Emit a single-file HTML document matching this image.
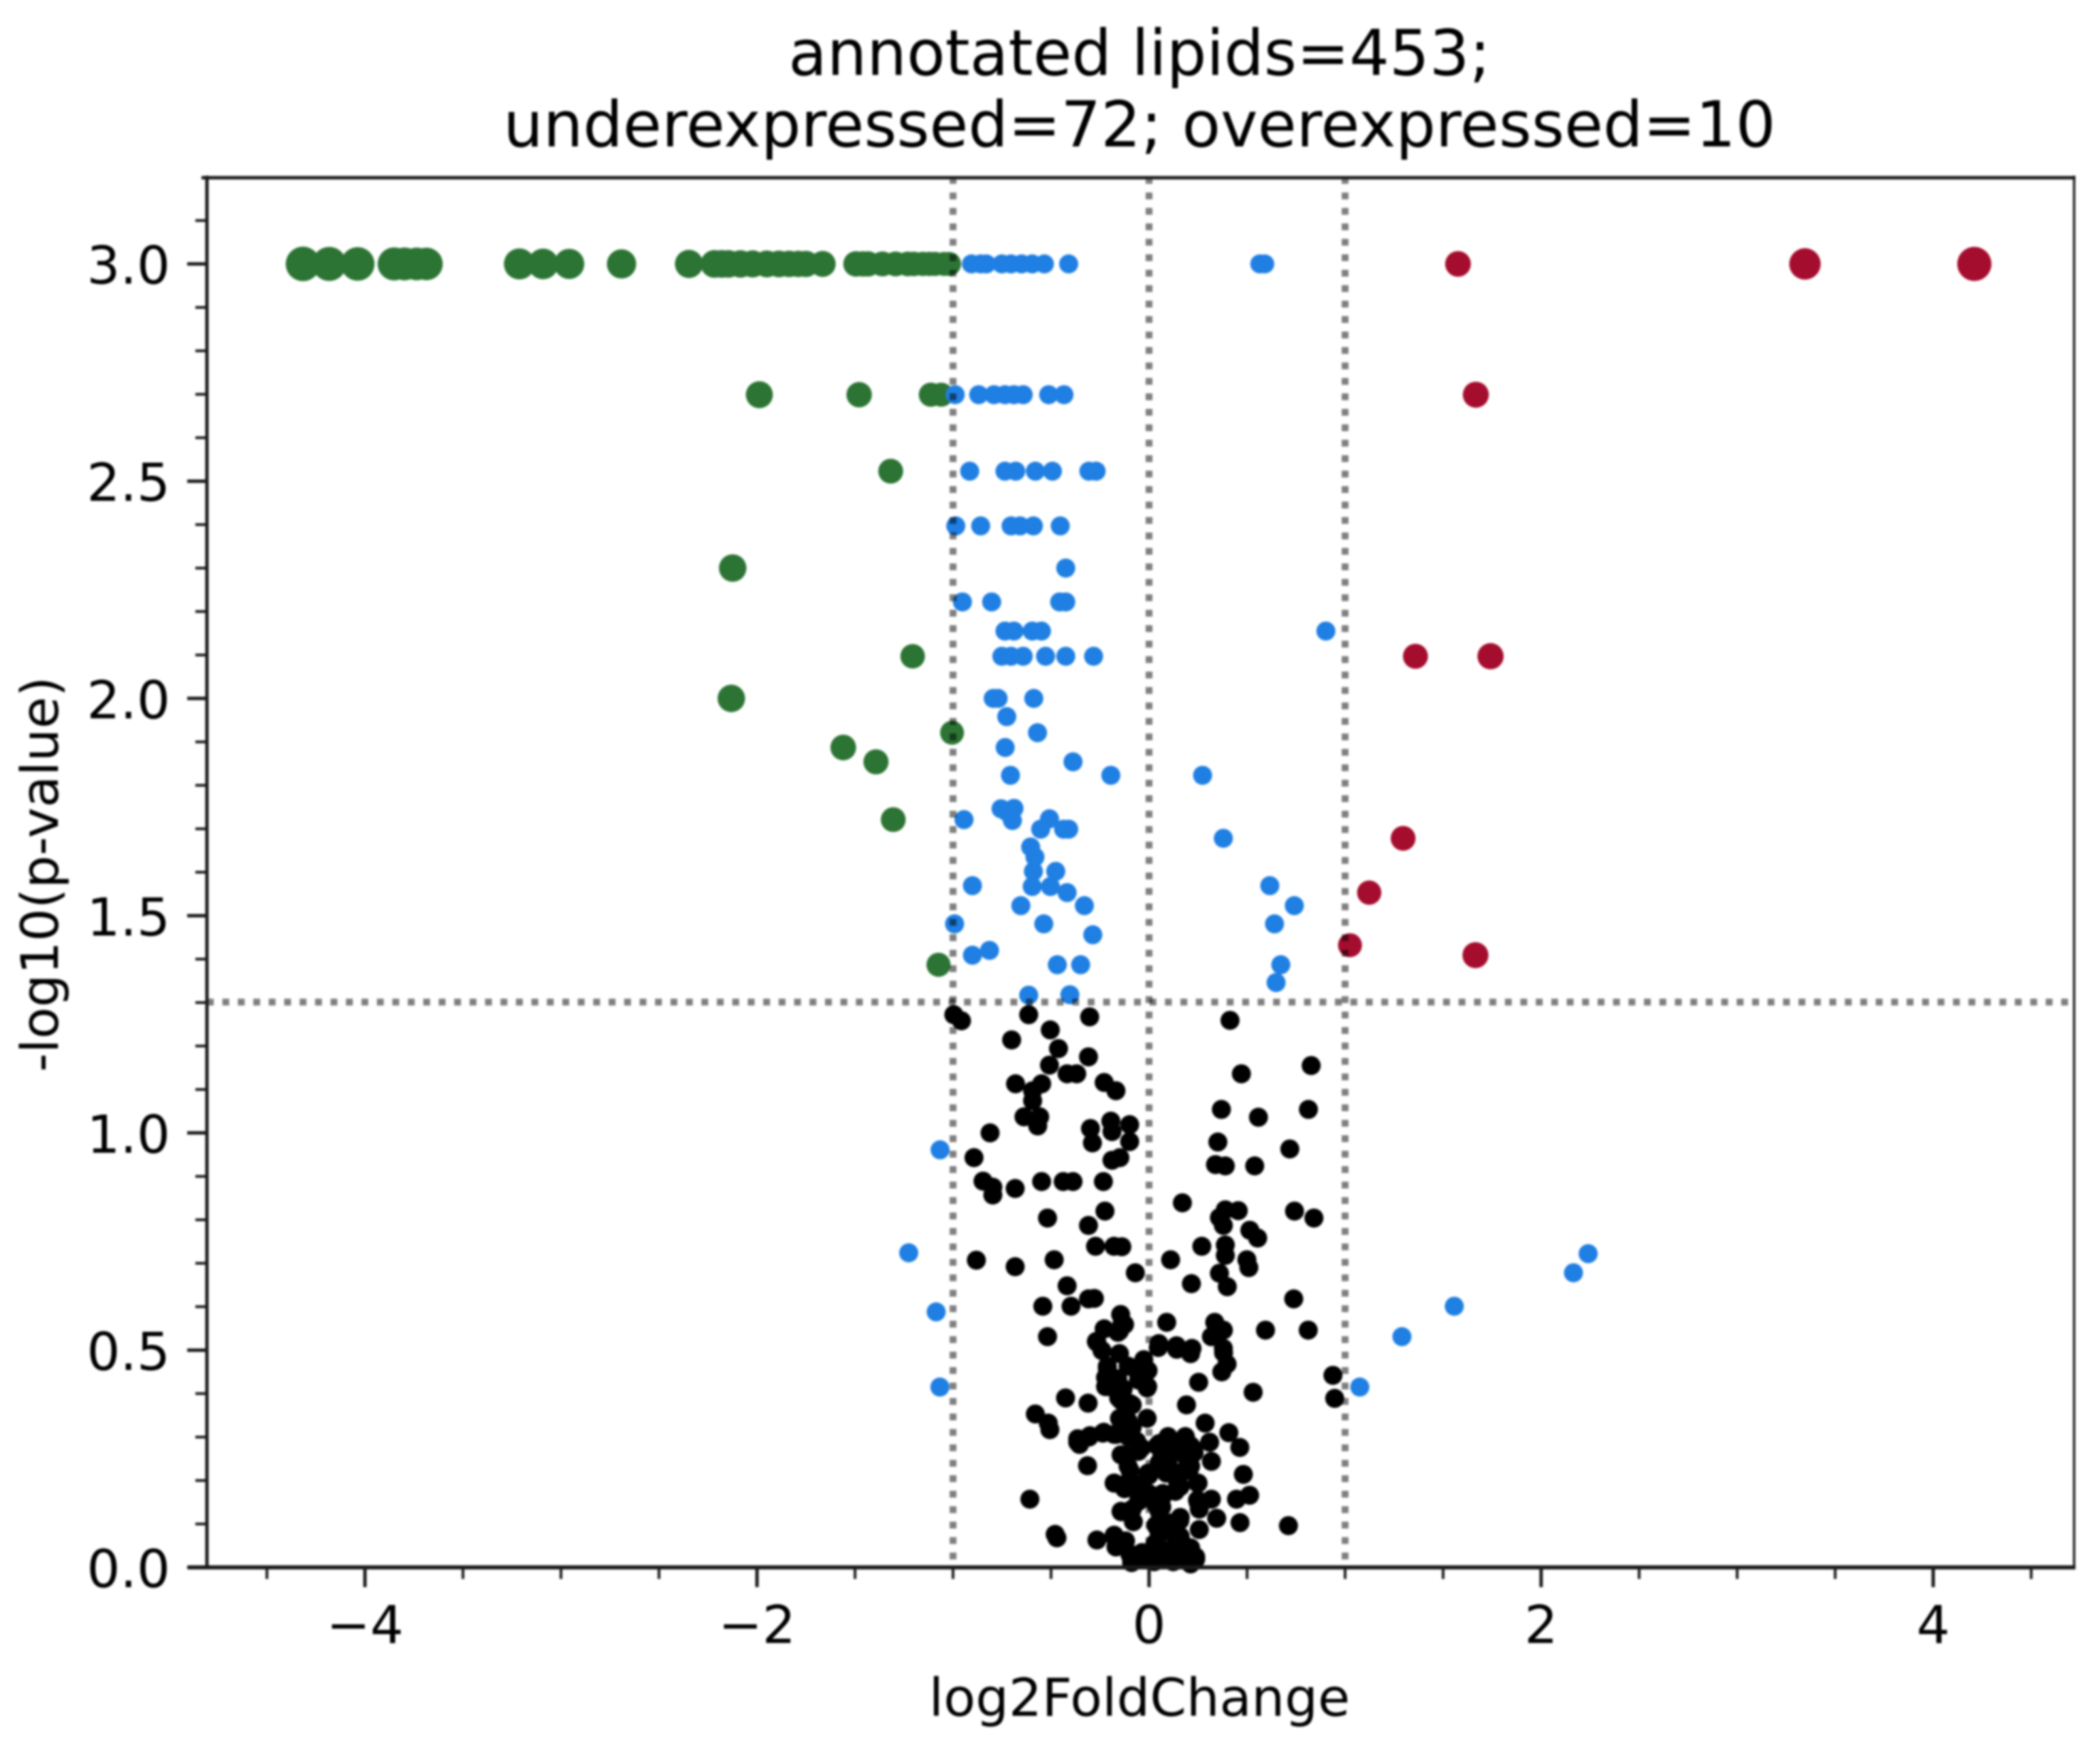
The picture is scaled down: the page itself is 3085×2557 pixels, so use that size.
<!DOCTYPE html>
<html lang="en">
<head>
<meta charset="utf-8">
<title>Volcano plot of annotated lipids</title>
<style>
html,body{margin:0;padding:0;background:#fff;width:3085px;height:2557px;overflow:hidden}
svg{display:block;filter:blur(1.6px)}
text{font-family:"DejaVu Sans","Liberation Sans",sans-serif;fill:#000}
</style>
</head>
<body>
<svg id="chart" xmlns="http://www.w3.org/2000/svg" width="3085" height="2557" viewBox="0 0 3085 2557">
  <rect x="0" y="0" width="3085" height="2557" fill="#fff"/>
  <g id="points"></g>
  <g id="guides"></g>
  <g id="ticks"></g>
  <g id="frame">
    <line x1="304" y1="258" x2="304" y2="2305" stroke="#1a1a1a" stroke-width="5"/>
    <line x1="276" y1="2302" x2="3049" y2="2302" stroke="#1a1a1a" stroke-width="6"/>
    <line x1="3047" y1="258" x2="3047" y2="2305" stroke="#1a1a1a" stroke-width="3.5"/>
    <line x1="296" y1="261" x2="3049" y2="261" stroke="#1a1a1a" stroke-width="5"/>
  </g>
  <g id="tick-labels"></g>
  <text x="1674" y="110" font-size="92.4" text-anchor="middle">annotated lipids=453;</text>
  <text x="1674" y="215" font-size="92.4" text-anchor="middle">underexpressed=72; overexpressed=10</text>
  <text x="1674" y="2520" font-size="76.8" text-anchor="middle">log2FoldChange</text>
  <text x="0" y="0" font-size="76" text-anchor="middle" transform="translate(85 1284) rotate(-90)">-log10(p-value)</text>
</svg>
<script>
// Tick values and labels
const xMajorTicks = [-4, -2, 0, 2, 4];
const xMajorLabels = ["\u22124", "\u22122", "0", "2", "4"];
const xMinorTicks = [-4.5, -3.5, -3, -2.5, -1.5, -1, -0.5, 0.5, 1, 1.5, 2.5, 3, 3.5, 4.5];
const yMajorTicks = [0, 0.5, 1, 1.5, 2, 2.5, 3];
const yMajorLabels = ["0.0", "0.5", "1.0", "1.5", "2.0", "2.5", "3.0"];
const yMinorTicks = [0.1, 0.2, 0.3, 0.4, 0.6, 0.7, 0.8, 0.9, 1.1, 1.2, 1.3, 1.4, 1.6, 1.7, 1.8, 1.9, 2.1, 2.2, 2.3, 2.4, 2.6, 2.7, 2.8, 2.9, 3.1];

// Thresholds
const foldChangeThresholds = [-1, 0, 1];
const pValueThresholds = [1.301];

// Not significant
const blackX = [-0.996,-0.957,-0.614,-0.303,0.413,-0.504,-0.701,-0.462,-0.309,-0.508,0.827,-0.418,-0.369,0.471,-0.681,-0.548,-0.229,-0.169,-0.594,-0.594,0.369,0.813,-0.638,-0.558,0.558,-0.568,-0.195,-0.099,-0.299,-0.189,-0.811,-0.289,-0.099,0.351,0.718,-0.893,-0.149,-0.189,0.339,0.389,0.539,-0.847,-0.548,-0.438,-0.388,-0.233,-0.797,-0.683,-0.797,0.170,-0.225,0.389,0.455,0.742,-0.518,0.841,0.359,-0.309,0.379,0.514,0.554,-0.273,-0.179,-0.139,0.269,0.389,0.389,-0.881,-0.484,0.110,0.499,0.509,-0.683,-0.070,0.359,0.216,-0.418,0.399,-0.279,-0.309,0.738,-0.542,-0.398,-0.145,0.090,-0.139,0.335,0.379,0.594,0.812,-0.229,0.339,-0.518,-0.159,-0.269,0.050,0.140,0.219,0.379,
-0.125,0.371,-0.151,0.318,-0.266,0.047,0.141,0.212,-0.240,-0.151,-0.027,0.380,0.398,-0.213,-0.107,-0.027,0.371,-0.222,-0.160,-0.054,0.938,0.253,-0.010,-0.222,-0.142,0.531,0.947,-0.426,-0.311,-0.142,-0.098,0.191,-0.580,-0.514,-0.506,-0.151,-0.107,-0.010,0.286,0.407,-0.142,-0.231,-0.302,-0.364,-0.355,-0.178,-0.107,0.097,0.185,-0.063,0.052,0.141,0.212,0.309,0.463,-0.134,-0.054,0.070,0.176,0.230,0.318,-0.314,-0.107,0.052,0.106,0.212,0.481,-0.178,-0.107,-0.001,0.013,0.141,0.159,0.247,-0.036,-0.001,0.070,-0.125,-0.608,0.247,0.318,0.446,0.513,-0.054,0.035,0.256,-0.142,0.052,-0.080,0.159,0.345,0.464,0.711,0.035,0.106,0.256,-0.479,-0.470,-0.266,-0.178,-0.125,-0.169,0.052,0.159,0.044,0.141,0.212,0.238,0.176,0.070,-0.036,-0.089,-0.089,0.026,0.123,0.212,0.079,
-0.213,-0.074,-0.005,-0.213,-0.132,-0.155,-0.086,-0.007,-0.143,-0.086,-0.364,-0.306,-0.236,-0.167,-0.086,-0.143,-0.039,0.042,0.100,0.186,0.227,0.134,0.065,0.198,-0.097,-0.005,0.088,0.157,0.204,-0.178,-0.120,-0.039,0.146,0.250,-0.051,0.065,0.134,0.250,-0.143,-0.086,0.065,0.042,0.157,0.100,-0.178,-0.120,-0.167,-0.097,0.030,0.134,0.180,0.238,0.042,0.100,0.157,-0.086,-0.040];
const blackY = [1.272,1.258,1.272,1.267,1.259,1.237,1.214,1.194,1.175,1.156,1.155,1.136,1.136,1.136,1.113,1.113,1.116,1.097,1.097,1.074,1.054,1.054,1.037,1.037,1.036,1.016,1.027,1.019,1.010,1.003,1.000,0.977,0.980,0.979,0.963,0.943,0.943,0.937,0.927,0.924,0.924,0.889,0.888,0.888,0.888,0.888,0.875,0.872,0.857,0.839,0.820,0.823,0.821,0.820,0.804,0.804,0.805,0.787,0.787,0.776,0.758,0.739,0.739,0.738,0.739,0.742,0.718,0.707,0.708,0.708,0.708,0.690,0.692,0.678,0.677,0.653,0.648,0.646,0.619,0.618,0.618,0.601,0.601,0.582,0.564,0.559,0.564,0.546,0.546,0.546,0.549,0.533,0.531,0.541,0.520,0.515,0.510,0.504,0.504,
0.559,0.546,0.544,0.531,0.518,0.506,0.502,0.492,0.499,0.492,0.478,0.494,0.468,0.463,0.463,0.455,0.450,0.437,0.434,0.431,0.442,0.426,0.413,0.416,0.411,0.403,0.389,0.390,0.378,0.384,0.377,0.374,0.353,0.332,0.317,0.343,0.337,0.343,0.332,0.310,0.317,0.311,0.303,0.296,0.283,0.306,0.301,0.301,0.301,0.290,0.285,0.285,0.280,0.288,0.276,0.259,0.267,0.264,0.264,0.264,0.244,0.234,0.233,0.241,0.228,0.233,0.214,0.194,0.196,0.212,0.165,0.207,0.186,0.194,0.175,0.170,0.170,0.181,0.157,0.155,0.157,0.157,0.166,0.152,0.144,0.134,0.128,0.128,0.105,0.115,0.113,0.103,0.096,0.097,0.102,0.087,0.076,0.068,0.063,0.074,0.060,0.047,0.076,0.071,0.050,0.050,0.045,0.019,0.024,0.024,0.034,0.029,0.011,0.013,0.013,0.008,0.039,
0.458,0.458,0.453,0.416,0.411,0.390,0.374,0.416,0.338,0.322,0.288,0.300,0.309,0.306,0.296,0.259,0.275,0.280,0.298,0.298,0.272,0.264,0.254,0.244,0.223,0.217,0.217,0.217,0.223,0.194,0.186,0.191,0.197,0.194,0.160,0.160,0.175,0.150,0.129,0.134,0.139,0.092,0.108,0.097,0.071,0.061,0.050,0.029,0.055,0.071,0.050,0.024,0.024,0.029,0.024,0.014,0.024];

// Underexpressed
const greenX = [-4.316,-4.182,-4.037,-3.851,-3.798,-3.736,-3.686,-3.212,-3.091,-2.958,-2.691,-2.347,-2.217,-2.180,-2.146,-2.084,-2.022,-1.950,-1.888,-1.836,-1.789,-1.750,-1.665,-1.495,-1.460,-1.433,-1.360,-1.293,-1.231,-1.200,-1.154,-1.120,-1.092,-1.045,-1.020,-1.988,-1.479,-1.113,-1.060,-1.318,-2.124,-1.206,-2.131,-1.005,-1.560,-1.393,-1.305,-1.074];
const greenY = [3,3,3,3,3,3,3,3,3,3,3,3,3,3,3,3,3,3,3,3,3,3,3,3,3,3,3,3,3,3,3,3,3,3,3,2.699,2.699,2.699,2.699,2.523,2.300,2.097,2.000,1.921,1.887,1.854,1.721,1.387];

// Overexpressed
const redX = [1.576,3.346,4.210,1.667,1.359,1.742,1.296,1.123,1.025,1.665];
const redY = [3,3,3,2.699,2.097,2.097,1.678,1.553,1.432,1.409];

// Significant but below the fold-change cut, plus large change without significance
const blueX = [-0.906,-0.859,-0.830,-0.751,-0.704,-0.650,-0.596,-0.534,-0.410,0.565,0.590,-0.989,-0.869,-0.791,-0.735,-0.689,-0.642,-0.512,-0.434,-0.915,-0.735,-0.680,-0.580,-0.493,-0.307,-0.270,-0.986,-0.859,-0.704,-0.658,-0.590,-0.453,-0.425,-0.952,-0.803,-0.456,-0.425,-0.735,-0.689,-0.596,-0.549,0.902,-0.751,-0.704,-0.642,-0.528,-0.425,-0.283,-0.795,-0.770,-0.588,-0.726,-0.569,-0.734,-0.388,-0.707,-0.195,0.273,-0.755,-0.689,-0.697,-0.729,-0.944,-0.508,-0.553,-0.436,-0.410,0.379,-0.604,-0.582,-0.590,-0.476,-0.596,-0.503,-0.901,-0.418,0.616,-0.654,-0.330,0.741,-0.992,-0.537,0.640,-0.287,-0.814,-0.901,-0.468,-0.349,0.672,0.648,-0.614,-0.404,-1.066,-1.226,-1.086,-1.067,1.075,1.290,1.557,2.165,2.240];
const blueY = [3,3,3,3,3,3,3,3,3,3,3,2.699,2.699,2.699,2.699,2.699,2.699,2.699,2.699,2.523,2.523,2.523,2.523,2.523,2.523,2.523,2.397,2.397,2.397,2.397,2.397,2.397,2.300,2.222,2.222,2.222,2.222,2.155,2.155,2.155,2.155,2.155,2.097,2.097,2.097,2.097,2.097,2.097,2.000,2.000,2.000,1.958,1.921,1.887,1.854,1.823,1.823,1.823,1.746,1.747,1.719,1.740,1.721,1.723,1.699,1.699,1.699,1.678,1.658,1.635,1.602,1.602,1.567,1.567,1.569,1.553,1.569,1.523,1.523,1.523,1.481,1.481,1.481,1.456,1.420,1.409,1.387,1.387,1.387,1.346,1.317,1.318,0.961,0.724,0.588,0.415,0.415,0.531,0.601,0.678,0.722];

// Axis functions
const xDomain = [-4.806, 4.719];
const yDomain = [0, 3.2];
function xScale(v) { return 304 + (v - xDomain[0]) / (xDomain[1] - xDomain[0]) * (3047 - 304); }
function yScale(v) { return 2302 - (v - yDomain[0]) / (yDomain[1] - yDomain[0]) * (2302 - 260); }
function sizedRadius(v) { return 15.2 + 2.35 * Math.abs(v); }
function fixedRadius() { return 14; }

const NS = "http://www.w3.org/2000/svg";
const pointsLayer = document.getElementById("points");
const guidesLayer = document.getElementById("guides");
const ticksLayer = document.getElementById("ticks");
const labelsLayer = document.getElementById("tick-labels");

function drawSeries(xs, ys, color, radius, name) {
  xs.forEach(function (v, i) {
    const el = document.createElementNS(NS, "circle");
    
    
    el.setAttribute("cx", xScale(v));
    el.setAttribute("cy", yScale(ys[i]));
    el.setAttribute("r", radius(v));
    el.setAttribute("fill", color);
    pointsLayer.appendChild(el);
  });
}
drawSeries(blackX, blackY, "#000000", fixedRadius, "point-not-significant");
drawSeries(greenX, greenY, "#2c7434", sizedRadius, "point-underexpressed");
drawSeries(redX, redY, "#a50d2e", sizedRadius, "point-overexpressed");
drawSeries(blueX, blueY, "#1f7fe3", fixedRadius, "point-low-fold-change");

function drawGuide(x1, y1, x2, y2, name) {
  const el = document.createElementNS(NS, "line");
  
  
  el.setAttribute("x1", x1);
  el.setAttribute("y1", y1);
  el.setAttribute("x2", x2);
  el.setAttribute("y2", y2);
  el.setAttribute("stroke", "#000");
  el.setAttribute("stroke-opacity", "0.5");
  el.setAttribute("stroke-width", "10");
  el.setAttribute("stroke-dasharray", "10 12.7");
  guidesLayer.appendChild(el);
}
foldChangeThresholds.forEach(function (v) {
  drawGuide(xScale(v), yScale(yDomain[1]), xScale(v), yScale(yDomain[0]), "fold-change-threshold");
});
pValueThresholds.forEach(function (v) {
  drawGuide(xScale(xDomain[0]), yScale(v), xScale(xDomain[1]), yScale(v), "p-value-threshold");
});

function drawXTick(v, length, width, name) {
  const el = document.createElementNS(NS, "line");
  
  
  el.setAttribute("x1", xScale(v));
  el.setAttribute("x2", xScale(v));
  el.setAttribute("y1", yScale(0));
  el.setAttribute("y2", yScale(0) + length);
  el.setAttribute("stroke", "#1a1a1a");
  el.setAttribute("stroke-width", width);
  ticksLayer.appendChild(el);
}
function drawYTick(v, length, width, name) {
  const el = document.createElementNS(NS, "line");
  
  
  el.setAttribute("x1", 304);
  el.setAttribute("x2", 304 - length);
  el.setAttribute("y1", yScale(v));
  el.setAttribute("y2", yScale(v));
  el.setAttribute("stroke", "#1a1a1a");
  el.setAttribute("stroke-width", width);
  ticksLayer.appendChild(el);
}
xMinorTicks.forEach(function (v) { drawXTick(v, 17, 4, "x-minor-tick"); });
xMajorTicks.forEach(function (v) { drawXTick(v, 29, 5, "x-major-tick"); });
yMinorTicks.forEach(function (v) { drawYTick(v, 17, 4, "y-minor-tick"); });
yMajorTicks.forEach(function (v) { drawYTick(v, 29, 5, "y-major-tick"); });

xMajorTicks.forEach(function (v, i) {
  const el = document.createElementNS(NS, "text");
  
  
  el.setAttribute("x", xScale(v));
  el.setAttribute("y", 2413);
  el.setAttribute("font-size", "77");
  el.setAttribute("text-anchor", "middle");
  el.textContent = xMajorLabels[i];
  labelsLayer.appendChild(el);
});
yMajorTicks.forEach(function (v, i) {
  const el = document.createElementNS(NS, "text");
  
  
  el.setAttribute("x", 250);
  el.setAttribute("y", yScale(v) + 29);
  el.setAttribute("font-size", "77");
  el.setAttribute("text-anchor", "end");
  el.textContent = yMajorLabels[i];
  labelsLayer.appendChild(el);
});
</script>
</body>
</html>
